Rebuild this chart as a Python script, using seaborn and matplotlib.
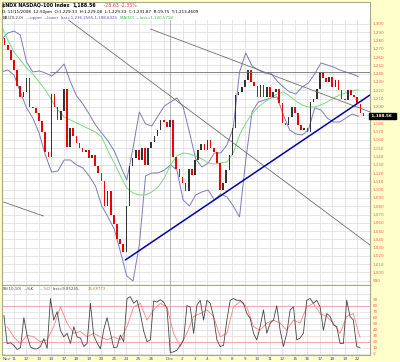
import numpy as np
import pandas as pd
import matplotlib
matplotlib.use("Agg")
import matplotlib.pyplot as plt
import seaborn as sns

# trading sessions (Nov 28 was a half day)
day_labels = ["Nov", "11", "12", "13", "14", "17", "18", "19", "20", "21", "24", "25", "26", "",
              "Dec", "2", "3", "4", "5", "8", "9", "10", "11", "12", "15", "16", "17", "18", "19", "22"]
session_len = [1] * 13 + [0.5] + [1] * 16

# closes, 4 per session
closes = [1283, 1275, 1268, 1257, 1245, 1225, 1212, 1218, 1235, 1200,
          1198, 1192, 1183, 1170, 1145, 1140, 1215, 1200, 1184, 1195,
          1222, 1152, 1175, 1165, 1156, 1150, 1145, 1148, 1138, 1142,
          1128, 1120, 1110, 1080, 1098, 1070, 1058, 1040, 1034, 1025,
          1080, 1128, 1138, 1148, 1136, 1150, 1130, 1150, 1158, 1165,
          1172, 1184, 1182, 1176, 1184, 1140, 1125, 1115, 1108, 1098,
          1125, 1118, 1136, 1148, 1155, 1148, 1160, 1150, 1145, 1132,
          1100, 1108, 1124, 1142, 1175, 1214, 1218, 1224, 1232, 1245,
          1230, 1225, 1212, 1226, 1212, 1224, 1212, 1218, 1222, 1205,
          1180, 1178, 1188, 1200, 1192, 1178, 1172, 1174, 1170, 1206,
          1210, 1222, 1242, 1235, 1230, 1236, 1224, 1232, 1220, 1210,
          1208, 1220, 1214, 1212, 1204, 1192, 1188.56]

# bollinger bands and MA(50), 2 per session
bb_upper = [1280.7, 1289.1, 1291.5, 1286.7, 1254.1, 1242.0, 1243.3, 1240.9, 1237.2, 1243.3,
            1251.7, 1230.0, 1213.1, 1203.4, 1191.3, 1178.1, 1168.4, 1158.8, 1146.7, 1128.6,
            1111.7, 1150.3, 1193.8, 1179.3, 1176.9, 1189.0, 1201.0, 1205.8, 1210.7, 1199.8,
            1169.6, 1137.0, 1127.4, 1132.2, 1144.3, 1144.3, 1153.9, 1174.4, 1242.0, 1265.0,
            1249.3, 1244.5, 1240.8, 1240.8, 1231.2, 1223.9, 1217.9, 1215.5, 1223.9, 1228.8,
            1239.6, 1252.9, 1250.5, 1248.1, 1244.5, 1242.0, 1239.6, 1236.3]
bb_lower = [1242.0, 1244.5, 1238.4, 1217.9, 1198.6, 1186.5, 1168.4, 1141.8, 1121.3, 1122.5,
            1135.8, 1135.8, 1129.8, 1126.1, 1116.5, 1104.4, 1080.3, 1067.0, 1052.5, 1024.8,
            995.8, 989.7, 1033.2, 1116.5, 1120.1, 1120.1, 1123.7, 1129.8, 1123.7, 1087.5,
            1080.3, 1093.6, 1097.2, 1099.6, 1087.5, 1094.8, 1091.1, 1080.3, 1067.0, 1135.8,
            1193.8, 1205.8, 1208.2, 1210.7, 1211.9, 1190.1, 1172.0, 1167.2, 1166.0, 1172.0,
            1198.6, 1196.2, 1186.5, 1181.7, 1181.7, 1186.5, 1191.3, 1188.6]
ma50 = [1297.6, 1280.7, 1266.2, 1256.5, 1246.9, 1239.6, 1230.0, 1220.3, 1208.2, 1196.2,
        1187.7, 1184.1, 1180.5, 1176.9, 1173.2, 1169.6, 1163.6, 1146.7, 1132.2, 1116.5,
        1102.0, 1096.0, 1093.6, 1093.6, 1097.2, 1103.2, 1114.1, 1129.8, 1140.6, 1144.3,
        1143.1, 1140.6, 1137.0, 1132.2, 1131.0, 1132.2, 1133.4, 1144.3, 1166.0, 1180.5,
        1191.3, 1199.8, 1205.8, 1210.7, 1215.5, 1217.9, 1213.1, 1207.0, 1202.2, 1199.8,
        1199.8, 1202.2, 1205.8, 1210.7, 1214.3, 1216.7, 1219.1, 1220.6]

# slow stochastic
stoch_k = [64, 17, 18, 14, 7, 10, 60, 30, 11, 8, 8, 12, 25, 9, 92, 56, 70, 39, 28, 34,
           17, 45, 28, 26, 12, 17, 84, 30, 18, 8, 40, 60, 35, 10, 11, 31, 20, 92, 95, 84,
           89, 67, 38, 20, 23, 88, 86, 90, 86, 75, 2, 3, 6, 14, 23, 80, 78, 34, 81, 89,
           56, 89, 84, 62, 23, 12, 14, 56, 89, 92, 89, 89, 84, 67, 59, 34, 23, 45, 73, 34,
           51, 56, 80, 39, 12, 34, 73, 78, 23, 26, 34, 89, 92, 84, 89, 78, 39, 67, 62, 48,
           45, 17, 17, 89, 62, 56, 12, 9.85]
stoch_d = [45, 28, 17, 31, 28, 20, 23, 45, 78, 51, 34, 37, 28, 34, 28, 23, 28, 23, 45, 78,
           84, 56, 73, 84, 78, 34, 12, 34, 62, 67, 73, 62, 28, 34, 78, 87, 78, 45, 39, 51,
           56, 51, 39, 56, 51, 78, 84, 67, 62, 51, 34, 62, 67, 26.69]

# trend lines: (session, price) pairs
trend_gray = [[(5.36, 1304.8), (29.52, 1033.2)],
              [(11.92, 1294.0), (29.52, 1193.8)],
              [(3.92, 1241.5), (29.52, 1241.5)],
              [(0.16, 1085.1), (3.36, 1068.2)]]
trend_blue = [(9.92, 1015.1), (29.52, 1214.3)]

W, H = 400, 362
YEL = "#ffffcc"
GRID = "#dcdcdc"

sns.set_style("white")
plt.rcParams["font.family"] = ["DejaVu Sans"]

fig = plt.figure(figsize=(W / 100, H / 100), dpi=100, facecolor=YEL)


def box(x0, y0, x1, y1):
    return [x0 / W, 1 - y1 / H, (x1 - x0) / W, (y1 - y0) / H]


frame = fig.add_axes(box(2, 2, 370, 285))
frame.set_facecolor("white")
frame.set_xticks([])
frame.set_yticks([])
for s in frame.spines.values():
    s.set_color("#a8a890")
    s.set_linewidth(0.8)

ax = fig.add_axes(box(2, 20, 370, 285))
ax.patch.set_alpha(0)
sax = fig.add_axes(box(2, 285, 370, 355))
sax.set_facecolor("white")

day_start = np.concatenate([[0], np.cumsum(session_len)[:-1]])
xmax = sum(session_len)
for a in (ax, sax):
    a.set_xlim(0.04, xmax + 0.02)
    for s in a.spines.values():
        s.set_color("#a8a890")
        s.set_linewidth(0.8)
ax.spines["top"].set_visible(False)

ax.set_ylim(984.9, 1304.8)
sax.set_ylim(-2.2, 114.5)

# grid
ax.hlines(np.arange(990, 1301, 10), 0, xmax, color=GRID, lw=0.5, zorder=0)
sax.hlines(np.arange(0, 101, 10), 0, xmax, color=GRID, lw=0.5, zorder=0)
for d, lab in zip(day_start, day_labels):
    c = "#999999" if lab == "Dec" else GRID
    ax.axvline(d, color=c, lw=0.5, zorder=0)
    sax.axvline(d, color=c, lw=0.5, zorder=0)
sax.axhline(80, color="#ff9a9a", lw=0.6, zorder=1)
sax.axhline(20, color="#ff9a9a", lw=0.6, zorder=1)

# candles
px = pd.DataFrame({"t": np.arange(len(closes)) * 0.25, "close": closes})
px["open"] = px["close"].shift(1).fillna(1290)
up = px["close"] >= px["open"]
for mask, col in ((up, "#333333"), (~up, "#ee0000")):
    sub = px[mask]
    ax.bar(sub["t"], sub["close"] - sub["open"], bottom=sub["open"], width=0.13,
           color=col, linewidth=0, zorder=3)

# bands and moving average
bands = pd.DataFrame({"t": np.linspace(0, 28.6, len(bb_upper)),
                      "upper": bb_upper, "lower": bb_lower, "ma": ma50})
sns.lineplot(data=bands, x="t", y="upper", ax=ax, color="#7b7bbf", lw=0.7, zorder=2)
sns.lineplot(data=bands, x="t", y="lower", ax=ax, color="#7b7bbf", lw=0.7, zorder=2)
sns.lineplot(data=bands, x="t", y="ma", ax=ax, color="#77dd77", lw=0.7, zorder=2)

for (x0, y0), (x1, y1) in trend_gray:
    ax.plot([x0, x1], [y0, y1], color="#707070", lw=0.6, zorder=4)
ax.plot([p[0] for p in trend_blue], [p[1] for p in trend_blue], color="#0000aa", lw=1.1, zorder=4)

# stochastics
sk = pd.DataFrame({"t": np.linspace(0.19, 28.72, len(stoch_k)), "v": stoch_k})
sd = pd.DataFrame({"t": np.linspace(0.45, 28.72, len(stoch_d)), "v": stoch_d})
sns.lineplot(data=sd, x="t", y="v", ax=sax, color="#ff8080", lw=0.6, zorder=3)
sns.lineplot(data=sk, x="t", y="v", ax=sax, color="#444444", lw=0.6, zorder=4)

# axis labels on the right
ticks = [v for v in range(990, 1301, 10) if v != 1190]
ax.yaxis.tick_right()
ax.set_yticks(ticks)
ax.set_yticklabels([f"{v:,}" for v in ticks], fontsize=3, color="#ff5a5a")
ax.tick_params(axis="y", length=0, pad=2)
ax.set_xticks([])
ax.set_xlabel("")
ax.set_ylabel("")
ax.text(1.0, 1188.56, " 1,188.56  ", transform=ax.get_yaxis_transform(), fontsize=3,
        color="white", fontweight="bold", va="center", ha="left",
        bbox=dict(boxstyle="square,pad=0.25", fc="black", ec="black"), clip_on=False)

sax.yaxis.tick_right()
sax.set_yticks(range(0, 91, 10))
sax.set_yticklabels([str(v) for v in range(0, 91, 10)], fontsize=3, color="#ff5a5a")
sax.tick_params(axis="y", length=0, pad=2)
sax.set_xticks([])
sax.set_xlabel("")
sax.set_ylabel("")
for d, lab in zip(day_start, day_labels):
    if lab:
        sax.text(max(d, 0.12), -0.03, lab, transform=sax.get_xaxis_transform(),
                 ha="left" if lab == "Nov" else "center", va="top",
                 fontsize=3, color="#3a3acc")

# header, pieces placed one after another
renderer = fig.canvas.get_renderer()


def run(x, y, pieces, size):
    for s, col, weight in pieces:
        t = fig.text(x / W, 1 - y / H, s, va="center", ha="left", fontsize=size,
                     color=col, fontweight=weight)
        x = t.get_window_extent(renderer).x1 + 2.5


run(2.5, 5.5, [("$NDX NASDAQ-100 Index", "black", "bold"), ("1,188.56", "black", "bold"),
               ("   -28.63", "#ff3333", "normal"), ("-2.35%", "#ff3333", "normal")], 3.4)
run(2.5, 12.5, [("D: 11/11/2008  12:50pm  O:1,229.33  H:1,229.08  L:1,229.33  C:1,231.87  R:19.75  Y:1,213.4609",
                 "black", "normal")], 3.0)
run(2.5, 18, [("BB(20,2.0)", "#333333", "normal"), ("\u2014upper \u2014lower", "#5555bb", "normal"),
              ("last=1,236.2565,1,188.6325", "#5555bb", "normal"),
              ("MA(50) \u2014last=1,220.5718", "#33bb33", "normal")], 2.85)
run(2.5, 289, [("SS(10,10)", "#444444", "normal"), ("\u2014%K", "#444444", "normal"),
               ("  \u2014%D", "#ff5555", "normal"), ("last=9.85245,", "#444444", "normal")], 2.8)
fig.text(88 / W, 1 - 289 / H, "26.68772", va="center", ha="left", fontsize=2.8, color="#ff5555")

fig.savefig("out.png", dpi=100, facecolor=YEL)
